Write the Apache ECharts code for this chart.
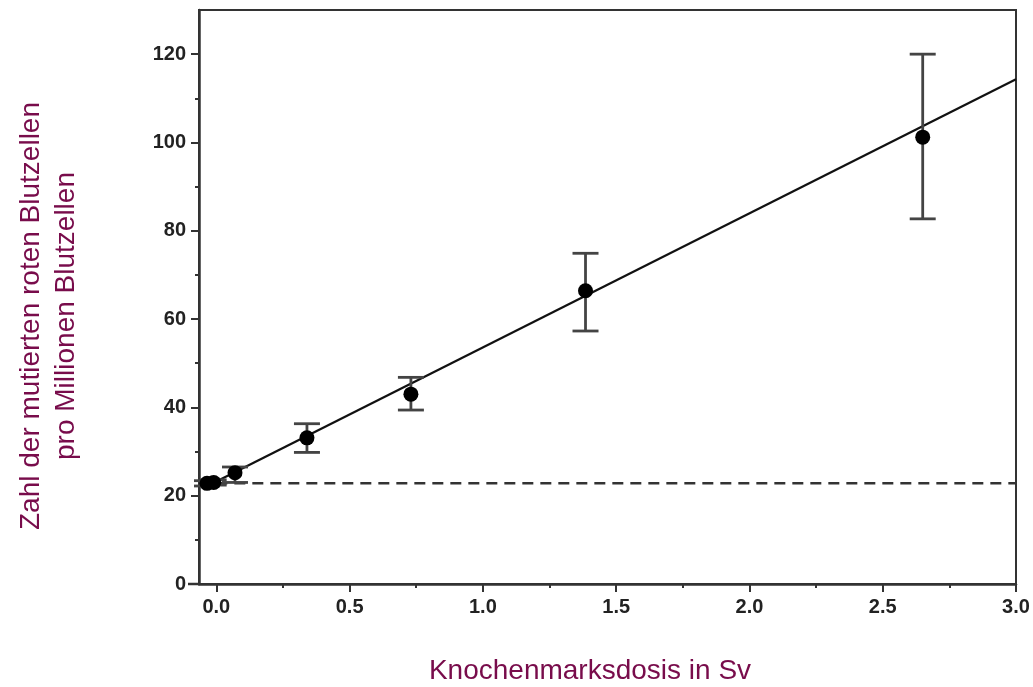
<!DOCTYPE html>
<html><head><meta charset="utf-8">
<script src="https://cdn.jsdelivr.net/npm/echarts@6/dist/echarts.min.js"></script>
<style>html,body{margin:0;padding:0;background:#fff}#c{width:1033px;height:687px}</style>
</head><body><div id="c"></div>
<script>
// Data
const doseX   = [-0.035, -0.01, 0.07, 0.34, 0.73, 1.385, 2.65];
const mutY    = [22.8, 23.0, 25.2, 33.1, 43.0, 66.4, 101.2];
const errLow  = [22.2, 22.4, 23.0, 29.8, 39.4, 57.3, 82.7];
const errHigh = [23.4, 23.6, 26.5, 36.3, 46.8, 74.9, 120.0];
const fitX = [0.0, 3.0];
const fitY = [23.2, 114.3];
const baseX = [0.0, 3.0];
const baseY = [22.8, 22.8];
const xTicks = [0, 0.5, 1.0, 1.5, 2.0, 2.5, 3.0];
const xMinor = [0.25, 0.75, 1.25, 1.75, 2.25, 2.75];
const yTicks = [0, 20, 40, 60, 80, 100, 120];
const yMinor = [10, 30, 50, 70, 90, 110];
const xTitle = 'Knochenmarksdosis in Sv';
const yTitle1 = 'Zahl der mutierten roten Blutzellen';
const yTitle2 = 'pro Millionen Blutzellen';

const titleColor = '#780C4B';
const axisColor = '#333';
const labelFont = { color: '#222', fontWeight: 'bold', fontSize: 20, fontFamily: 'Liberation Sans, Arial, sans-serif' };
const titleFont = '28px "Liberation Sans", Arial, sans-serif';
const chart = echarts.init(document.getElementById('c'));
const xMin = -0.065, xMax = 3.0, yMin = 0, yMax = 130;

const pts = doseX.map((x, i) => [x, mutY[i]]);
const errs = doseX.map((x, i) => [x, errLow[i], errHigh[i]]);

chart.setOption({
  animation: false,
  grid: { left: 199, right: 17, top: 10, bottom: 103, show: true, borderColor: axisColor, borderWidth: 2, backgroundColor: 'transparent' },
  xAxis: [{
    type: 'value', min: xMin, max: xMax,
    axisLine: { show: true, onZero: false, lineStyle: { color: axisColor, width: 2.5 } },
    axisTick: { show: true, length: 8, customValues: xTicks, lineStyle: { color: axisColor, width: 2 } },
    axisLabel: Object.assign({ customValues: xTicks, margin: 13, formatter: v => v.toFixed(1) }, labelFont),
    splitLine: { show: false }
  }, {
    type: 'value', min: xMin, max: xMax, position: 'bottom',
    axisLine: { show: false, onZero: false },
    axisTick: { show: true, length: 4, customValues: xMinor, lineStyle: { color: axisColor, width: 2 } },
    axisLabel: { show: false }, splitLine: { show: false }
  }],
  yAxis: [{
    type: 'value', min: yMin, max: yMax,
    axisLine: { show: true, onZero: false, lineStyle: { color: axisColor, width: 2.5 } },
    axisTick: { show: true, length: 8, customValues: yTicks, lineStyle: { color: axisColor, width: 2 } },
    axisLabel: Object.assign({ customValues: yTicks, margin: 13 }, labelFont),
    splitLine: { show: false }
  }, {
    type: 'value', min: yMin, max: yMax, position: 'left',
    axisLine: { show: false, onZero: false },
    axisTick: { show: true, length: 4, customValues: yMinor, lineStyle: { color: axisColor, width: 2 } },
    axisLabel: { show: false }, splitLine: { show: false }
  }],
  graphic: [
    { type: 'line', shape: { x1: 188, y1: 584, x2: 199, y2: 584 }, style: { stroke: axisColor, lineWidth: 2.5 } },
    { type: 'text', x: 590, y: 671, style: { text: xTitle, fill: titleColor, font: titleFont, textAlign: 'center', textVerticalAlign: 'middle' } },
    { type: 'text', x: 31, y: 316, rotation: Math.PI / 2, style: { text: yTitle1, fill: titleColor, font: titleFont, textAlign: 'center', textVerticalAlign: 'middle' } },
    { type: 'text', x: 66, y: 316, rotation: Math.PI / 2, style: { text: yTitle2, fill: titleColor, font: titleFont, textAlign: 'center', textVerticalAlign: 'middle' } }
  ],
  series: [
    {
      type: 'line', data: baseX.map((x, i) => [x, baseY[i]]), symbol: 'none',
      lineStyle: { color: '#333', width: 2.5, type: [11, 7] }, z: 2
    },
    {
      type: 'line', data: fitX.map((x, i) => [x, fitY[i]]), symbol: 'none',
      lineStyle: { color: '#111', width: 2.2 }, z: 3
    },
    {
      type: 'custom', data: errs, z: 4,
      renderItem: function (params, api) {
        const x = api.value(0);
        const lo = api.coord([x, api.value(1)]);
        const hi = api.coord([x, api.value(2)]);
        const hw = 13;
        const st = { stroke: '#444', lineWidth: 2.8 };
        return { type: 'group', children: [
          { type: 'line', shape: { x1: lo[0], y1: lo[1], x2: hi[0], y2: hi[1] }, style: st },
          { type: 'line', shape: { x1: lo[0] - hw, y1: lo[1], x2: lo[0] + hw, y2: lo[1] }, style: st },
          { type: 'line', shape: { x1: hi[0] - hw, y1: hi[1], x2: hi[0] + hw, y2: hi[1] }, style: st }
        ]};
      }
    },
    {
      type: 'scatter', data: pts, symbol: 'circle', symbolSize: 15,
      itemStyle: { color: '#000', opacity: 1 }, z: 5
    }
  ]
});
</script>
</body></html>
